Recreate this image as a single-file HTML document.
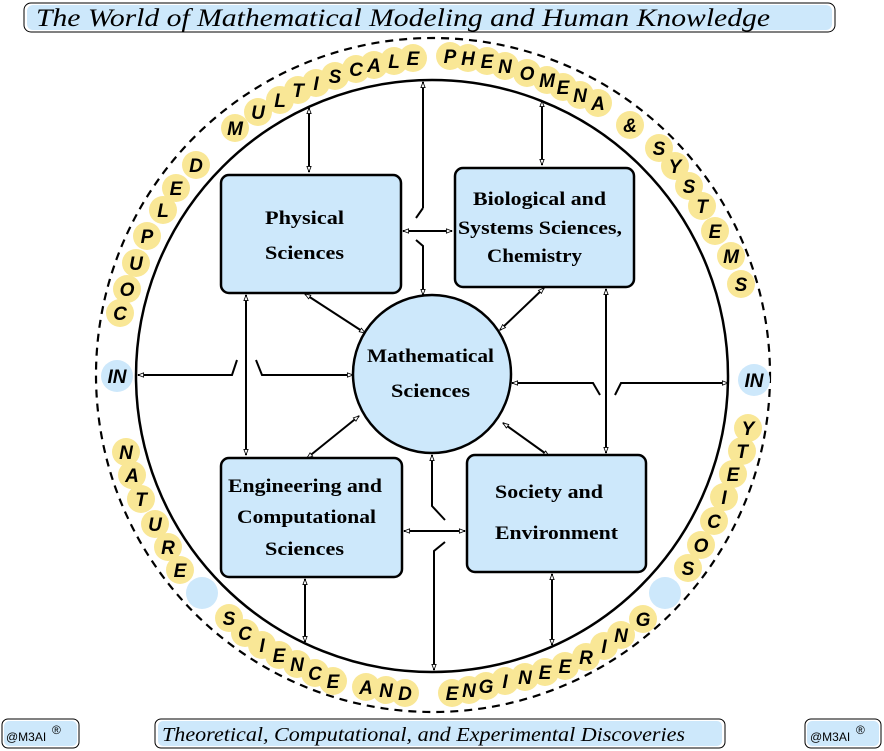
<!DOCTYPE html>
<html><head><meta charset="utf-8"><style>
html,body{margin:0;padding:0;background:#fff;}
svg{display:block;}
.bl{font-family:"Liberation Serif",serif;font-weight:bold;font-size:19px;fill:#000;}
.lt{font-family:"Liberation Sans",sans-serif;font-weight:bold;font-style:italic;font-size:19px;fill:#000;text-anchor:middle;}
</style></head><body>
<svg width="884" height="751" viewBox="0 0 884 751" xmlns="http://www.w3.org/2000/svg">
<defs>
<marker id="a" viewBox="0 0 10 10" refX="9" refY="5" markerWidth="7" markerHeight="7" orient="auto-start-reverse" markerUnits="userSpaceOnUse">
<path d="M1,2 L9,5 L1,8 Z" fill="#fff" stroke="#000" stroke-width="1.2"/></marker>
</defs>
<!-- title -->
<rect x="24" y="3" width="811" height="29" rx="7" fill="#fff" stroke="#000" stroke-width="1"/>
<rect x="27" y="5" width="805" height="25" rx="6" fill="#cde8fb"/>
<text x="36" y="26" font-family="Liberation Serif,serif" font-style="italic" font-size="25" fill="#000" textLength="734" lengthAdjust="spacingAndGlyphs">The World of Mathematical Modeling and Human Knowledge</text>
<!-- circles -->
<circle cx="433" cy="375" r="337" fill="none" stroke="#000" stroke-width="2.2" stroke-dasharray="8,6"/>
<g fill="#f9e796">
<circle cx="235" cy="128" r="14"/><circle cx="258" cy="112" r="14"/><circle cx="280" cy="100" r="14"/><circle cx="298" cy="90" r="14"/><circle cx="316" cy="83" r="14"/><circle cx="335" cy="76" r="14"/><circle cx="356" cy="69" r="14"/><circle cx="374" cy="65" r="14"/><circle cx="394" cy="61" r="14"/><circle cx="413" cy="58" r="14"/>
<circle cx="450" cy="56" r="14"/><circle cx="468" cy="58" r="14"/><circle cx="487" cy="61" r="14"/><circle cx="505" cy="66" r="14"/><circle cx="527" cy="73" r="14"/><circle cx="547" cy="80" r="14"/><circle cx="563" cy="87" r="14"/><circle cx="580" cy="95" r="14"/><circle cx="598" cy="103" r="14"/>
<circle cx="630" cy="125" r="14"/><circle cx="659" cy="148" r="14"/><circle cx="675" cy="166" r="14"/><circle cx="689" cy="186" r="14"/><circle cx="702" cy="206" r="14"/><circle cx="715" cy="231" r="14"/><circle cx="731" cy="256" r="14"/><circle cx="741" cy="284" r="14"/>
<circle cx="196" cy="165" r="14"/><circle cx="176" cy="188" r="14"/><circle cx="163" cy="210" r="14"/><circle cx="147" cy="236" r="14"/><circle cx="136" cy="263" r="14"/><circle cx="127" cy="289" r="14"/><circle cx="120" cy="313" r="14"/>
<circle cx="126" cy="452" r="14"/><circle cx="132" cy="475" r="14"/><circle cx="141" cy="499" r="14"/><circle cx="155" cy="524" r="14"/><circle cx="168" cy="547" r="14"/><circle cx="180" cy="570" r="14"/>
<circle cx="229" cy="618" r="14"/><circle cx="245" cy="633" r="14"/><circle cx="262" cy="645" r="14"/><circle cx="279" cy="655" r="14"/><circle cx="297" cy="664" r="14"/><circle cx="315" cy="673" r="14"/><circle cx="333" cy="681" r="14"/>
<circle cx="366" cy="687" r="14"/><circle cx="386" cy="690" r="14"/><circle cx="405" cy="693" r="14"/>
<circle cx="452" cy="693" r="14"/><circle cx="469" cy="690" r="14"/><circle cx="486" cy="686" r="14"/><circle cx="505" cy="681" r="14"/><circle cx="525" cy="677" r="14"/><circle cx="545" cy="672" r="14"/><circle cx="565" cy="666" r="14"/><circle cx="586" cy="657" r="14"/><circle cx="604" cy="646" r="14"/><circle cx="621" cy="635" r="14"/><circle cx="643" cy="619" r="14"/>
<circle cx="748" cy="428" r="14"/><circle cx="742" cy="451" r="14"/><circle cx="733" cy="474" r="14"/><circle cx="724" cy="497" r="14"/><circle cx="714" cy="521" r="14"/><circle cx="701" cy="545" r="14"/><circle cx="688" cy="568" r="14"/>
</g>
<g fill="#cde8fb"><circle cx="117" cy="376" r="16"/><circle cx="754" cy="380" r="16"/><circle cx="202" cy="593" r="16"/><circle cx="665" cy="593" r="16"/></g>
<g class="lt">
<text x="235" y="135">M</text><text x="258" y="119">U</text><text x="280" y="107">L</text><text x="298" y="97">T</text><text x="316" y="90">I</text><text x="335" y="83">S</text><text x="356" y="76">C</text><text x="374" y="72">A</text><text x="394" y="68">L</text><text x="413" y="65">E</text>
<text x="450" y="63">P</text><text x="468" y="65">H</text><text x="487" y="68">E</text><text x="505" y="73">N</text><text x="527" y="80">O</text><text x="547" y="87">M</text><text x="563" y="94">E</text><text x="580" y="102">N</text><text x="598" y="110">A</text>
<text x="630" y="132">&amp;</text><text x="659" y="155">S</text><text x="675" y="173">Y</text><text x="689" y="193">S</text><text x="702" y="213">T</text><text x="715" y="238">E</text><text x="731" y="263">M</text><text x="741" y="291">S</text>
<text x="196" y="172">D</text><text x="176" y="195">E</text><text x="163" y="217">L</text><text x="147" y="243">P</text><text x="136" y="270">U</text><text x="127" y="296">O</text><text x="120" y="320">C</text>
<text x="117" y="383">IN</text><text x="754" y="387">IN</text>
<text x="126" y="459">N</text><text x="132" y="482">A</text><text x="141" y="506">T</text><text x="155" y="531">U</text><text x="168" y="554">R</text><text x="180" y="577">E</text>
<text x="229" y="625">S</text><text x="245" y="640">C</text><text x="262" y="652">I</text><text x="279" y="662">E</text><text x="297" y="671">N</text><text x="315" y="680">C</text><text x="333" y="688">E</text>
<text x="366" y="694">A</text><text x="386" y="697">N</text><text x="405" y="700">D</text>
<text x="452" y="700">E</text><text x="469" y="697">N</text><text x="486" y="693">G</text><text x="505" y="688">I</text><text x="525" y="684">N</text><text x="545" y="679">E</text><text x="565" y="673">E</text><text x="586" y="664">R</text><text x="604" y="653">I</text><text x="621" y="642">N</text><text x="643" y="626">G</text>
<text x="748" y="435">Y</text><text x="742" y="458">T</text><text x="733" y="481">E</text><text x="724" y="504">I</text><text x="714" y="528">C</text><text x="701" y="552">O</text><text x="688" y="575">S</text>
</g>
<circle cx="432" cy="376" r="296" fill="none" stroke="#000" stroke-width="2.5"/>
<!-- connectors -->
<g fill="none" stroke="#000" stroke-width="2">
<path d="M423,208 L423,82" marker-end="url(#a)"/>
<path d="M423,208 L416,218"/>
<path d="M416,240 L423,246 L423,295" marker-end="url(#a)"/>
<path d="M403,231 L452,231" marker-start="url(#a)" marker-end="url(#a)"/>
<path d="M309,108 L309,172" marker-start="url(#a)" marker-end="url(#a)"/>
<path d="M542,101 L542,165" marker-start="url(#a)" marker-end="url(#a)"/>
<path d="M305,294 L365,333" marker-start="url(#a)" marker-end="url(#a)"/>
<path d="M544,288 L500,330" marker-start="url(#a)" marker-end="url(#a)"/>
<path d="M138,375 L232,375 L237,360" marker-start="url(#a)"/>
<path d="M256,360 L262,375 L353,375" marker-end="url(#a)"/>
<path d="M512,383 L593,383 L600,395" marker-start="url(#a)"/>
<path d="M615,395 L621,383 L728,383" marker-end="url(#a)"/>
<path d="M246,295 L246,455" marker-start="url(#a)" marker-end="url(#a)"/>
<path d="M606,289 L606,453" marker-start="url(#a)" marker-end="url(#a)"/>
<path d="M307,458 L359,416" marker-start="url(#a)" marker-end="url(#a)"/>
<path d="M549,456 L503,423" marker-start="url(#a)" marker-end="url(#a)"/>
<path d="M445,520 L432,506 L432,455" marker-end="url(#a)"/>
<path d="M404,531 L465,531" marker-start="url(#a)" marker-end="url(#a)"/>
<path d="M445,542 L434,551 L434,670" marker-end="url(#a)"/>
<path d="M305,579 L305,642" marker-start="url(#a)" marker-end="url(#a)"/>
<path d="M552,574 L552,645" marker-start="url(#a)" marker-end="url(#a)"/>
</g>
<!-- boxes -->
<g stroke="#000" stroke-width="2.5" fill="#cde8fb">
<rect x="221" y="175" width="180" height="118" rx="8"/>
<rect x="455" y="168" width="179" height="119" rx="8"/>
<rect x="221" y="458" width="181" height="119" rx="8"/>
<rect x="467" y="455" width="179" height="117" rx="8"/>
<circle cx="432" cy="374" r="79"/>
</g>
<g class="bl">
<text x="265" y="224" textLength="79" lengthAdjust="spacingAndGlyphs">Physical</text><text x="265" y="259" textLength="79" lengthAdjust="spacingAndGlyphs">Sciences</text>
<text x="473" y="205" textLength="133" lengthAdjust="spacingAndGlyphs">Biological and</text><text x="458" y="234" textLength="164" lengthAdjust="spacingAndGlyphs">Systems Sciences,</text><text x="487" y="262" textLength="95" lengthAdjust="spacingAndGlyphs">Chemistry</text>
<text x="367" y="362" textLength="127" lengthAdjust="spacingAndGlyphs">Mathematical</text><text x="391" y="397" textLength="79" lengthAdjust="spacingAndGlyphs">Sciences</text>
<text x="228" y="492" textLength="154" lengthAdjust="spacingAndGlyphs">Engineering and</text><text x="237" y="523" textLength="139" lengthAdjust="spacingAndGlyphs">Computational</text><text x="265" y="555" textLength="79" lengthAdjust="spacingAndGlyphs">Sciences</text>
<text x="495" y="498" textLength="108" lengthAdjust="spacingAndGlyphs">Society and</text><text x="495" y="539" textLength="123" lengthAdjust="spacingAndGlyphs">Environment</text>
</g>
<!-- footer -->
<rect x="155" y="719" width="570" height="29" rx="6" fill="#fff" stroke="#000"/>
<rect x="158" y="721" width="564" height="25" rx="5" fill="#cde8fb"/>
<text x="162" y="741" font-family="Liberation Serif,serif" font-style="italic" font-size="20" fill="#000" textLength="523" lengthAdjust="spacingAndGlyphs">Theoretical, Computational, and Experimental Discoveries</text>
<rect x="2" y="719" width="77" height="29" rx="6" fill="#fff" stroke="#000"/>
<rect x="4" y="721" width="73" height="25" rx="5" fill="#cde8fb"/>
<text x="6" y="741" font-family="Liberation Sans,sans-serif" font-size="12" fill="#000">@M3AI</text><text x="52" y="734" font-family="Liberation Sans,sans-serif" font-size="12">®</text>
<rect x="805" y="719" width="76" height="29" rx="6" fill="#fff" stroke="#000"/>
<rect x="807" y="721" width="72" height="25" rx="5" fill="#cde8fb"/>
<text x="810" y="741" font-family="Liberation Sans,sans-serif" font-size="12" fill="#000">@M3AI</text><text x="856" y="734" font-family="Liberation Sans,sans-serif" font-size="12">®</text>
</svg>
</body></html>
